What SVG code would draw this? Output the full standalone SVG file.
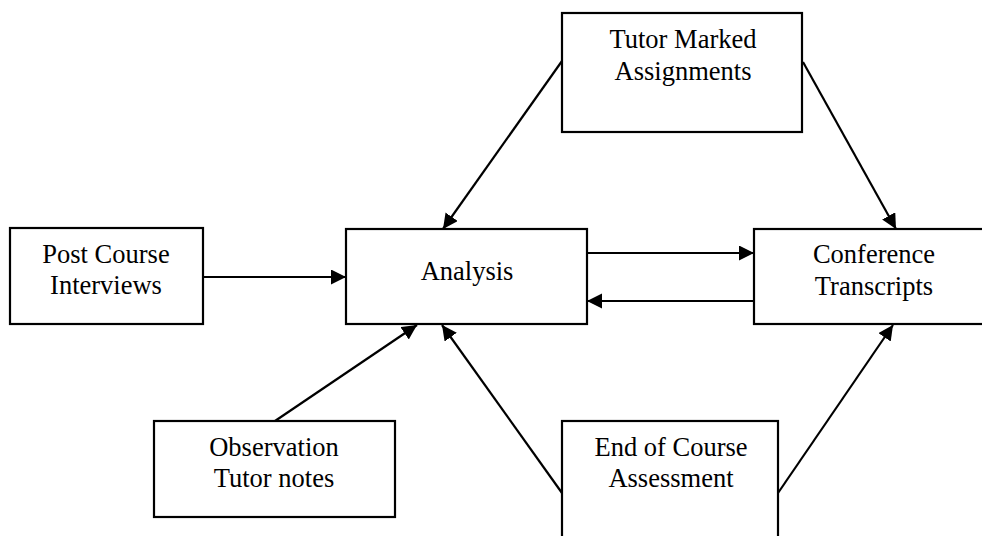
<svg xmlns="http://www.w3.org/2000/svg" width="982" height="536" viewBox="0 0 982 536">
<style>
.box{fill:#fff;stroke:#000;stroke-width:2.2}
.t{font-family:"Liberation Serif","Times New Roman",serif;font-size:26.5px;fill:#000;text-anchor:middle}
.c{stroke:#000;stroke-width:2.2;fill:none;marker-end:url(#ah)}
</style>
<defs>
<marker id="ah" markerWidth="16" markerHeight="16" refX="15" refY="7.5" orient="auto" markerUnits="userSpaceOnUse">
<path d="M0,0 L15,7.5 L0,15 Z" fill="#000"/>
</marker>
</defs>
<rect width="982" height="536" fill="#fff"/>
<g id="connectors">
<line class="c" x1="562" y1="61" x2="443" y2="229"/>
<line class="c" x1="803" y1="62" x2="896" y2="229"/>
<line class="c" x1="203" y1="277" x2="346" y2="277"/>
<line class="c" x1="587" y1="253" x2="754" y2="253"/>
<line class="c" x1="754" y1="301" x2="587" y2="301"/>
<line class="c" x1="275" y1="421" x2="417" y2="325"/>
<line class="c" x1="562" y1="493" x2="442" y2="325"/>
<line class="c" x1="778" y1="493" x2="893" y2="325"/>
</g>
<g id="tutor-marked">
<rect class="box" x="562" y="13" width="240" height="119"/>
<text class="t" x="683" y="48">Tutor Marked</text>
<text class="t" x="683" y="80">Assignments</text>
</g>
<g id="post-course">
<rect class="box" x="10" y="228" width="193" height="96"/>
<text class="t" x="106" y="263">Post Course</text>
<text class="t" x="106" y="294">Interviews</text>
</g>
<g id="analysis">
<rect class="box" x="346" y="229" width="241" height="95"/>
<text class="t" x="467" y="280">Analysis</text>
</g>
<g id="conference">
<rect class="box" x="754" y="229" width="240" height="95"/>
<text class="t" x="874" y="263">Conference</text>
<text class="t" x="874" y="295">Transcripts</text>
</g>
<g id="observation">
<rect class="box" x="154" y="421" width="241" height="96"/>
<text class="t" x="274" y="456">Observation</text>
<text class="t" x="274" y="487">Tutor notes</text>
</g>
<g id="end-of-course">
<rect class="box" x="562" y="421" width="216" height="130"/>
<text class="t" x="671" y="456">End of Course</text>
<text class="t" x="671" y="487">Assessment</text>
</g>
</svg>
